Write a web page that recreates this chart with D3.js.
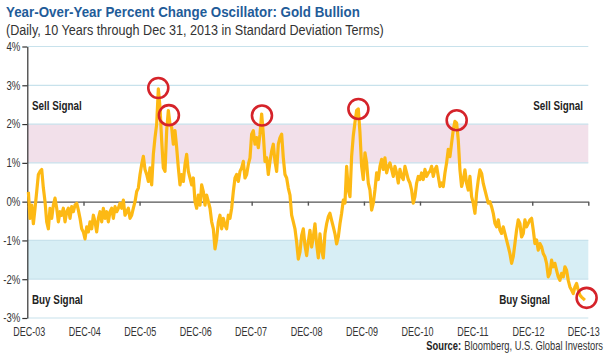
<!DOCTYPE html>
<html lang="en">
<head>
<meta charset="utf-8">
<script src="https://d3js.org/d3.v7.min.js"></script>
<style>
  body { margin: 0; background: #fff; }
  text { font-family: "Liberation Sans Narrow", "Arial Narrow", "Liberation Sans", sans-serif; fill: #333; }
  .title { font-weight: bold; fill: #1f5c99; font-size: 15px; }
  .sub { font-size: 14px; fill: #333; }
  .signal { font-weight: bold; font-size: 12px; fill: #222; }
  .axis text { font-size: 12px; fill: #333; }
  .src { font-size: 12px; fill: #333; }
</style>
</head>
<body>
<svg id="chart" width="607" height="354"></svg>
<script>
// oscillator readings, % (std dev terms), one sample roughly every 11 days from early Jan 2004
var values = [
  0.25,-0.43,-0.09,-0.57,-0.17,0.26,0.70,0.78,0.83,0.35,
  0,-0.52,-0.70,-0.17,-0.43,-0.09,0.09,-0.17,-0.52,-0.26,
  -0.35,-0.17,-0.52,-0.26,-0.17,-0.43,-0.13,-0.26,-0.09,-0.04,
  -0.22,-0.43,-0.70,-0.78,-0.96,-0.65,-0.78,-0.52,-0.70,-0.35,
  -0.52,-0.78,-0.43,-0.26,-0.52,-0.17,-0.43,-0.26,-0.52,-0.26,
  -0.17,-0.43,-0.13,-0.26,-0.17,-0.04,-0.17,0.04,-0.35,-0.26,
  -0.17,-0.43,-0.35,-0.17,0,0.26,0.35,0.70,0.96,1.17,
  0.83,0.70,0.52,0.87,0.43,1.22,1.65,2.0,2.91,2.43,
  1.57,0.87,0.78,1.83,2.35,
  2.0,1.91,1.48,1.83,1.39,0.87,0.43,0.70,0.52,0.96,
  1.22,0.78,0.61,0.43,0.61,0,-0.17,0.17,-0.09,0.43,
  0.26,-0.09,0.17,0,-0.17,-0.52,-0.70,-1.22,-0.96,-0.52,
  -0.35,-0.70,-0.43,-0.61,-0.70,-0.35,-0.43,-0.17,0.26,0.61,
  0.70,0.52,0.78,0.87,1.04,0.61,0.70,0.96,1.13,1.74,
  1.83,1.48,1.65,1.39,1.74,2.26,1.74,1.04,1.13,0.70,
  1.04,1.30,1.48,1.04,0.78,1.48,1.65,1.74,1.13,0.70,
  0.61,0.35,0.17,-0.35,-0.52,-0.70,-1.04,-1.48,-1.30,-0.87,
  -0.70,-1.13,-1.39,-1.04,
  -0.74,-1.17,-0.91,-0.57,-1.09,-1.45,-0.83,-1.26,-1.45,-0.83,
  -0.57,-0.39,-0.30,-0.48,-0.65,-0.83,-1.09,-0.91,-0.57,-0.30,
  0.04,-0.04,0.91,0.30,0.13,1.17,1.70,2.04,2.35,2.39,
  1.78,0.91,0.57,1.26,1.0,0.48,0.30,-0.22,-0.04,0.30,
  0.74,0.57,0.91,1.09,0.83,1.13,0.74,0.91,1.0,0.83,
  0.65,0.91,0.74,0.48,0.83,0.65,0.57,0.91,0.74,0.57,
  0.48,0.30,-0.04,0.13,0.48,0.65,0.57,0.74,0.57,0.83,
  0.65,0.74,0.78,0.91,0.65,0.83,0.91,0.65,0.39,0.48,
  0.39,0.74,1.0,1.35,
  1.16,1.51,1.85,2.07,2.03,1.59,0.82,0.39,0.56,0.82,
  0.47,0.30,0.65,0.13,-0.04,-0.30,0.22,0.56,0.82,0.73,
  0.47,0.30,0.13,-0.04,0,-0.13,-0.30,-0.56,-0.65,-0.47,
  -0.73,-0.82,-0.65,-0.82,-0.99,-1.16,-1.34,-1.59,-1.42,-1.08,
  -0.73,-0.47,-0.56,-0.91,-0.82,-0.47,-0.65,-0.56,-0.47,-0.43,
  -0.73,-1.08,-0.99,-1.25,-1.08,-1.16,-1.34,-1.42,-1.59,-1.94,
  -1.85,-1.51,-1.68,-1.59,-1.77,-1.94,-2.03,-1.85,-1.94,-1.68,
  -1.77,-2.03,-2.20,-2.28,-2.37,-2.20,-2.11,-2.28,-2.41,-2.46,
  -2.50,-2.54
];
var startDate = new Date(2004, 0, 7);
var stepDays = 10.85;

var yTicks = [-3, -2, -1, 0, 1, 2, 3, 4];
var yearLabels = ["DEC-03","DEC-04","DEC-05","DEC-06","DEC-07","DEC-08","DEC-09","DEC-10","DEC-11","DEC-12","DEC-13"];
var sellBand = [1, 2];
var buyBand = [-2, -1];

// circled extremes
var signalDates = ["2006-05-02","2006-07-10","2008-03-07","2009-11-25","2011-08-27","2013-12-20"];
var signalValues = [2.93, 2.23, 2.22, 2.39, 2.10, -2.48];

var data = values.map(function(v, i) {
  return { date: d3.timeHour.offset(startDate, Math.round(i * stepDays * 24)), value: v };
});
var tickDates = yearLabels.map(function(d, i) { return new Date(2003 + i, 11, 31); });
var parse = d3.timeParse("%Y-%m-%d");

var svg = d3.select("#chart");
var plotL = 27.3, plotR = 588.3, plotT = 46.5, plotB = 318;

var x = d3.scaleTime().domain([tickDates[0], tickDates[tickDates.length - 1]]).range([plotL, plotR]);
// the date labels sit a touch tighter than the ticks
var xLab = x.copy().range([plotL + 1.5, plotR - 5]);
var y = d3.scaleLinear().domain([-3, 4]).range([plotB, plotT]);

// squeeze text a bit, the original uses a condensed face
function condense(sel, k) {
  sel.each(function() {
    var w = this.getComputedTextLength();
    d3.select(this).attr("textLength", w * k).attr("lengthAdjust", "spacingAndGlyphs");
  });
}

// bands
svg.append("rect")
  .attr("x", plotL).attr("width", plotR - plotL)
  .attr("y", y(sellBand[1])).attr("height", y(sellBand[0]) - y(sellBand[1]))
  .attr("fill", "#f2e0ea");
svg.append("rect")
  .attr("x", plotL).attr("width", plotR - plotL)
  .attr("y", y(buyBand[1])).attr("height", y(buyBand[0]) - y(buyBand[1]))
  .attr("fill", "#d7eef5");

// gridlines
svg.append("g").selectAll("line")
  .data(yTicks.filter(function(d) { return d !== 0; }))
  .enter().append("line")
  .attr("x1", plotL).attr("x2", plotR)
  .attr("y1", function(d) { return y(d); }).attr("y2", function(d) { return y(d); })
  .attr("stroke", "#c8e2ec").attr("stroke-width", 1.2);

// zero line with year ticks
var zeroAxis = svg.append("g")
  .attr("transform", "translate(0," + y(0) + ")")
  .call(d3.axisBottom(x).tickValues(tickDates).tickSize(4).tickSizeOuter(0).tickFormat(""));
zeroAxis.selectAll("path, line").attr("stroke", "#555").attr("stroke-width", 1.4);

// y axis
var yAxis = svg.append("g")
  .attr("class", "axis")
  .attr("transform", "translate(" + plotL + ",0)")
  .call(d3.axisLeft(y).tickValues(yTicks).tickSize(5).tickSizeOuter(0).tickPadding(2)
    .tickFormat(function(d) { return d + "%"; }));
yAxis.selectAll("path, line").attr("stroke", "#333").attr("stroke-width", 1.2);
condense(yAxis.selectAll("text"), 0.8);

// x labels (narrowed with a horizontal scale about each tick)
var xAxis = svg.append("g")
  .attr("class", "axis")
  .attr("transform", "translate(0," + (plotB + 6) + ")")
  .call(d3.axisBottom(xLab).tickValues(tickDates).tickSize(0).tickPadding(3)
    .tickFormat(function(d, i) { return yearLabels[i]; }));
xAxis.select(".domain").remove();
xAxis.selectAll("text").attr("transform", "scale(0.75,1)");

// series
svg.append("path")
  .datum(data)
  .attr("fill", "none")
  .attr("stroke", "#fdb914")
  .attr("stroke-width", 3.2)
  .attr("stroke-linejoin", "round")
  .attr("d", d3.line().x(function(d) { return x(d.date); }).y(function(d) { return y(d.value); }));

// circles
svg.append("g").selectAll("circle")
  .data(signalDates)
  .enter().append("circle")
  .attr("cx", function(d) { return x(parse(d)); })
  .attr("cy", function(d, i) { return y(signalValues[i]); })
  .attr("r", 10)
  .attr("fill", "none")
  .attr("stroke", "#d5232a")
  .attr("stroke-width", 2.6);

// signal labels
var sig = svg.append("g");
sig.append("text").attr("class", "signal").attr("x", 32).attr("y", y(2.5) + 5).text("Sell Signal");
sig.append("text").attr("class", "signal").attr("x", 583).attr("y", y(2.5) + 5).attr("text-anchor", "end").text("Sell Signal");
sig.append("text").attr("class", "signal").attr("x", 32).attr("y", y(-2.5) + 5).text("Buy Signal");
sig.append("text").attr("class", "signal").attr("x", 550).attr("y", y(-2.5) + 5).attr("text-anchor", "end").text("Buy Signal");
condense(sig.selectAll("text"), 0.82);

// titles
var title = svg.append("text").attr("class", "title").attr("x", 6).attr("y", 17)
  .text("Year-Over-Year Percent Change Oscillator: Gold Bullion");
condense(title, 0.89);
var sub = svg.append("text").attr("class", "sub").attr("x", 6).attr("y", 35)
  .text("(Daily, 10 Years through Dec 31, 2013 in Standard Deviation Terms)");
condense(sub, 0.9);

// source line, squeezed with a group scale anchored at the right edge
var srcG = svg.append("g").attr("transform", "translate(603,350) scale(0.78,1)");
var srcRest = srcG.append("text").attr("class", "src").attr("x", 0).attr("y", 0)
  .attr("text-anchor", "end").text("Bloomberg, U.S. Global Investors");
var restW = srcRest.node().getComputedTextLength();
srcG.append("text").attr("class", "src").attr("x", -restW - 4).attr("y", 0)
  .attr("text-anchor", "end").style("font-weight", "bold").style("fill", "#222").text("Source:");
</script>
</body>
</html>
